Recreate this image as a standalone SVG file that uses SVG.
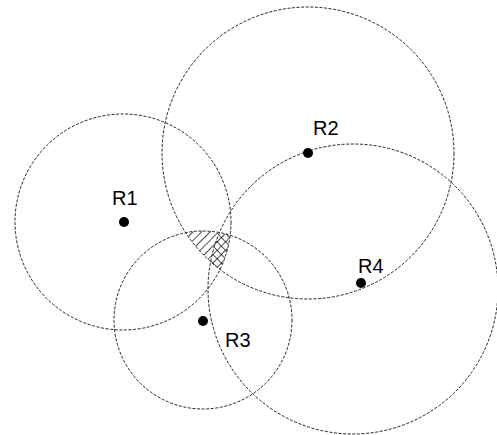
<svg xmlns="http://www.w3.org/2000/svg" width="497" height="435" viewBox="0 0 497 435">
<style>
.ring{fill:none;stroke:#222;stroke-width:1;stroke-dasharray:3 1.6}
.dot{fill:#000}
.lbl{font-family:"Liberation Sans",Arial,sans-serif;font-size:20px;fill:#000}
</style>
<defs>
<pattern id="h1" patternUnits="userSpaceOnUse" width="6" height="6" patternTransform="rotate(45)"><line x1="0" y1="0" x2="0" y2="6" stroke="#000" stroke-width="1.4"/></pattern>
<pattern id="h2" patternUnits="userSpaceOnUse" width="6" height="6" patternTransform="rotate(-45)"><line x1="0" y1="0" x2="0" y2="6" stroke="#000" stroke-width="1.4"/></pattern>
<clipPath id="c1"><circle cx="123" cy="222" r="108"/></clipPath>
<clipPath id="c2"><circle cx="308" cy="153" r="146"/></clipPath>
<clipPath id="c3"><circle cx="203" cy="320" r="89"/></clipPath>
<clipPath id="c4"><circle cx="353" cy="289" r="145"/></clipPath>
</defs>
<rect width="497" height="435" fill="#fff"/>
<g id="hatch" clip-path="url(#c1)"><g clip-path="url(#c2)"><g clip-path="url(#c3)">
<rect x="170" y="220" width="80" height="70" fill="url(#h1)"/>
<g clip-path="url(#c4)"><rect x="170" y="220" width="80" height="70" fill="url(#h2)"/></g>
</g></g></g>
<g id="connectors">
<circle class="ring" cx="123" cy="222" r="108"/>
<circle class="ring" cx="308" cy="153" r="146"/>
<circle class="ring" cx="203" cy="320" r="89"/>
<circle class="ring" cx="353" cy="289" r="145"/>
</g>
<g id="R1"><circle class="dot" cx="124" cy="222" r="5"/><text class="lbl" x="112" y="205">R1</text></g>
<g id="R2"><circle class="dot" cx="308" cy="153" r="5"/><text class="lbl" x="313" y="135">R2</text></g>
<g id="R3"><circle class="dot" cx="203" cy="321" r="5"/><text class="lbl" x="225" y="347">R3</text></g>
<g id="R4"><circle class="dot" cx="361" cy="283" r="5"/><text class="lbl" x="358" y="273">R4</text></g>
</svg>
